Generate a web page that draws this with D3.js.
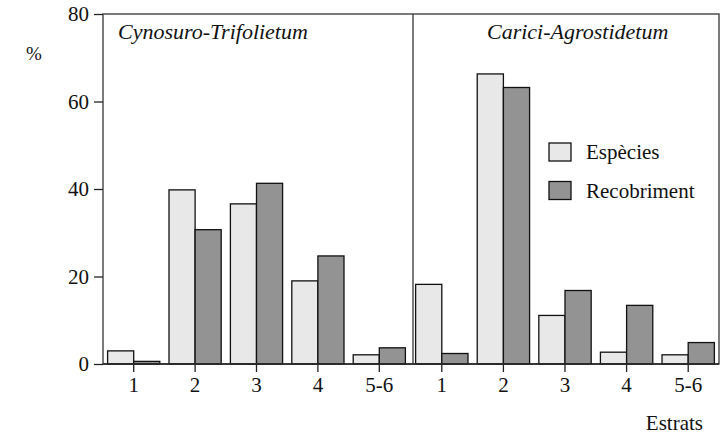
<!DOCTYPE html>
<html>
<head>
<meta charset="utf-8">
<script src="https://cdn.jsdelivr.net/npm/d3@7"></script>
</head>
<body style="margin:0">
<svg id="chart" width="720" height="436" font-family="Liberation Serif"></svg>
<script>
const categories = ["1", "2", "3", "4", "5-6"];
const seriesNames = ["Espècies", "Recobriment"];
const panelTitles = ["Cynosuro-Trifolietum", "Carici-Agrostidetum"];
const yTicks = [0, 20, 40, 60, 80];

// Cynosuro-Trifolietum
const cynoEspecies = [3.0, 39.8, 36.6, 19.0, 2.1];
const cynoRecobriment = [0.6, 30.7, 41.3, 24.7, 3.7];
// Carici-Agrostidetum
const cariEspecies = [18.2, 66.3, 11.1, 2.7, 2.1];
const cariRecobriment = [2.4, 63.2, 16.8, 13.4, 4.9];

const colors = ["#e8e8e8", "#939393"];
const fontFam = "'Liberation Serif', 'Times New Roman', serif";

const frame = {left: 103, top: 14, right: 719, bottom: 364, divider: 413};

const svg = d3.select("svg#chart");

const yScale = d3.scaleLinear()
    .domain([0, 80])
    .range([frame.bottom, frame.top]);

const panels = [
    {values: [cynoEspecies, cynoRecobriment], range: [103, 410]},
    {values: [cariEspecies, cariRecobriment], range: [411, 719]},
];

panels.forEach((p) => {
    const x = d3.scaleBand()
        .domain(categories)
        .range(p.range)
        .paddingInner(0.15)
        .paddingOuter(0.075);
    const xSub = d3.scaleBand()
        .domain(seriesNames)
        .range([0, x.bandwidth()]);

    const rows = categories.map((c, i) => ({
        cat: c,
        bars: seriesNames.map((s, j) => ({series: s, value: p.values[j][i], color: colors[j]}))
    }));

    const groups = svg.append("g").selectAll("g")
        .data(rows)
        .enter().append("g")
        .attr("transform", (d) => "translate(" + x(d.cat) + ",0)");

    groups.selectAll("rect")
        .data((d) => d.bars)
        .enter().append("rect")
        .attr("x", (d) => xSub(d.series))
        .attr("y", (d) => yScale(d.value))
        .attr("width", xSub.bandwidth())
        .attr("height", (d) => yScale(0) - yScale(d.value))
        .attr("fill", (d) => d.color)
        .attr("stroke", "#111")
        .attr("stroke-width", 1.3);

    const ax = svg.append("g")
        .attr("transform", "translate(0," + frame.bottom + ")")
        .call(d3.axisBottom(x).tickSize(8).tickSizeOuter(0).tickPadding(5));
    ax.attr("font-family", null).attr("font-size", null);
    ax.select(".domain").remove();
    ax.selectAll("line").attr("stroke", "#222").attr("stroke-width", 1.3);
    ax.selectAll("text")
        .attr("fill", "#111")
        .style("font-family", fontFam)
        .style("font-size", "21px");
});

// frame and divider
svg.append("rect")
    .attr("x", frame.left)
    .attr("y", frame.top)
    .attr("width", frame.right - frame.left)
    .attr("height", frame.bottom - frame.top)
    .attr("fill", "none")
    .attr("stroke", "#444")
    .attr("stroke-width", 1.4);

svg.append("line")
    .attr("x1", frame.divider).attr("x2", frame.divider)
    .attr("y1", frame.top).attr("y2", frame.bottom)
    .attr("stroke", "#444")
    .attr("stroke-width", 1.4);

svg.append("line")
    .attr("x1", frame.left).attr("x2", frame.right)
    .attr("y1", frame.bottom).attr("y2", frame.bottom)
    .attr("stroke", "#222")
    .attr("stroke-width", 1.5);

const yAxis = svg.append("g")
    .attr("transform", "translate(" + frame.left + ",0)")
    .call(d3.axisLeft(yScale).tickValues(yTicks).tickSize(9).tickPadding(5));
yAxis.attr("font-family", null).attr("font-size", null);
yAxis.select(".domain").remove();
yAxis.selectAll("line").attr("stroke", "#222").attr("stroke-width", 1.3);
yAxis.selectAll("text")
    .attr("fill", "#111")
    .style("font-family", fontFam)
    .style("font-size", "21px");

// titles and axis labels
const labels = [
    {text: panelTitles[0], x: 118, y: 39, size: 22, italic: true, anchor: "start"},
    {text: panelTitles[1], x: 487, y: 39, size: 22, italic: true, anchor: "start"},
    {text: "%", x: 26, y: 60, size: 19, italic: false, anchor: "start"},
    {text: "Estrats", x: 703, y: 430, size: 21, italic: false, anchor: "end"},
];

svg.append("g").selectAll("text")
    .data(labels)
    .enter().append("text")
    .attr("x", (d) => d.x)
    .attr("y", (d) => d.y)
    .attr("text-anchor", (d) => d.anchor)
    .attr("fill", "#111")
    .style("font-family", fontFam)
    .style("font-size", (d) => d.size + "px")
    .style("font-style", (d) => d.italic ? "italic" : "normal")
    .text((d) => d.text);

// legend
const legend = svg.append("g").selectAll("g")
    .data(seriesNames)
    .enter().append("g")
    .attr("transform", (d, i) => "translate(549," + (143 + i * 38.5) + ")");

legend.append("rect")
    .attr("width", 22)
    .attr("height", 18)
    .attr("fill", (d, i) => colors[i])
    .attr("stroke", "#111")
    .attr("stroke-width", 1.3);

legend.append("text")
    .attr("x", 37)
    .attr("y", 16)
    .attr("fill", "#111")
    .style("font-family", fontFam)
    .style("font-size", "21px")
    .text((d) => d);
</script>
</body>
</html>
